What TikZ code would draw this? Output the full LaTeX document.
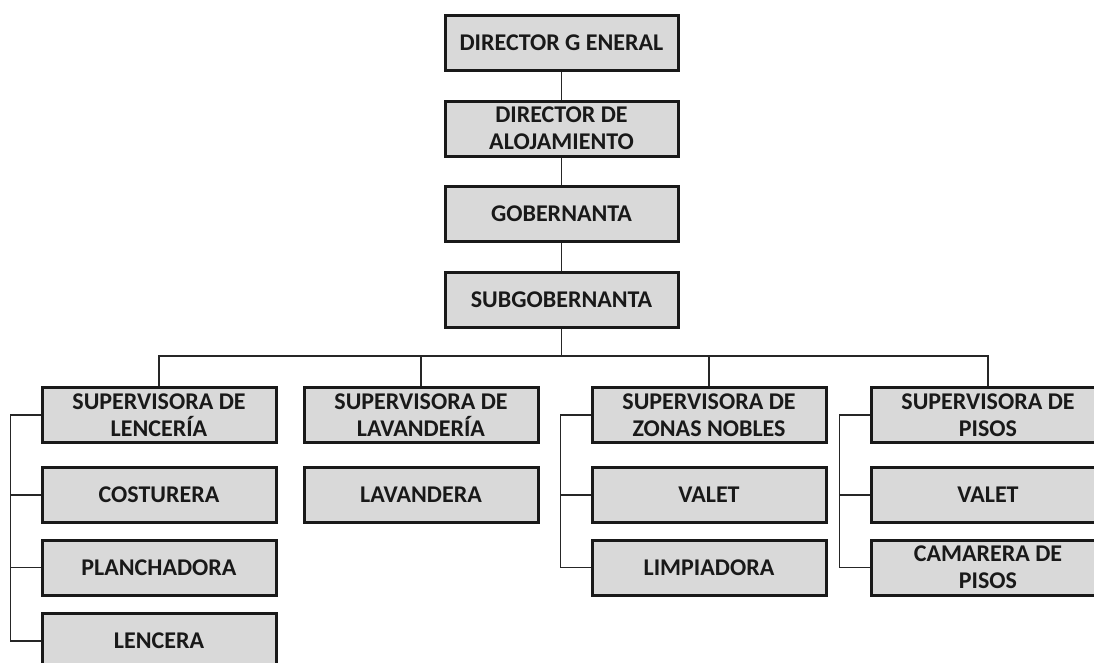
\documentclass[tikz,border=0pt]{standalone}
\usepackage{fontspec}
\setmainfont{Carlito}
\begin{document}
\begin{tikzpicture}[x=1pt,y=-1pt,
  box/.style={draw=black!90, line width=3pt, fill=boxgray, rectangle,
    minimum width=233pt, minimum height=55pt, inner sep=0pt, align=center,
    font=\bfseries\fontsize{24}{27}\selectfont, text=black!90},
  link/.style={draw=black!85, line width=1.5pt}]
\definecolor{boxgray}{HTML}{D9D9D9}
\useasboundingbox (0,0) rectangle (1094,662);
\clip (0,0) rectangle (1094,662);
\fill[white] (0,0) rectangle (1094,662);

% main chain
\node[box] (dg) at (561.5,43) {DIRECTOR G ENERAL};
\node[box] (da) at (561.5,128.5) {DIRECTOR DE\\ALOJAMIENTO};
\node[box] (gob) at (561.5,214) {GOBERNANTA};
\node[box] (sub) at (561.5,299.5) {SUBGOBERNANTA};

% supervisors
\node[box, minimum width=234pt] (s1) at (159,415) {SUPERVISORA DE\\LENCERÍA};
\node[box, minimum width=234pt] (s2) at (421,415) {SUPERVISORA DE\\LAVANDERÍA};
\node[box, minimum width=234pt] (s3) at (709,415) {SUPERVISORA DE\\ZONAS NOBLES};
\node[box, minimum width=234pt] (s4) at (988,415) {SUPERVISORA DE\\PISOS};

% staff under each supervisor
\node[box, minimum width=234pt] (c11) at (159,495) {COSTURERA};
\node[box, minimum width=234pt] (c12) at (159,567.5) {PLANCHADORA};
\node[box, minimum width=234pt] (c13) at (159,641) {LENCERA};
\node[box, minimum width=234pt] (c21) at (421,495) {LAVANDERA};
\node[box, minimum width=234pt] (c31) at (709,495) {VALET};
\node[box, minimum width=234pt] (c32) at (709,567.5) {LIMPIADORA};
\node[box, minimum width=234pt] (c41) at (988,495) {VALET};
\node[box, minimum width=234pt] (c42) at (988,567.5) {CAMARERA DE\\PISOS};

% vertical chain
\draw[link] (dg.south) -- (da.north);
\draw[link] (da.south) -- (gob.north);
\draw[link] (gob.south) -- (sub.north);

% bus to supervisors
\coordinate (bus) at (561.5,356);
\draw[link] (sub.south) -- (bus);
\draw[link] (s1.north) |- (bus) -| (s4.north);
\draw[link] (s2.north) -- (s2.north |- bus);
\draw[link] (s3.north) -- (s3.north |- bus);

% side trunks
\coordinate (t1) at ([xshift=-30pt]s1.west);
\coordinate (t3) at ([xshift=-30pt]s3.west);
\coordinate (t4) at ([xshift=-30pt]s4.west);
\draw[link] (s1.west) -- (t1) |- (c13.west);
\draw[link] (t1 |- c11.west) -- (c11.west);
\draw[link] (t1 |- c12.west) -- (c12.west);
\draw[link] (s3.west) -- (t3) |- (c32.west);
\draw[link] (t3 |- c31.west) -- (c31.west);
\draw[link] (s4.west) -- (t4) |- (c42.west);
\draw[link] (t4 |- c41.west) -- (c41.west);
\end{tikzpicture}
\end{document}
